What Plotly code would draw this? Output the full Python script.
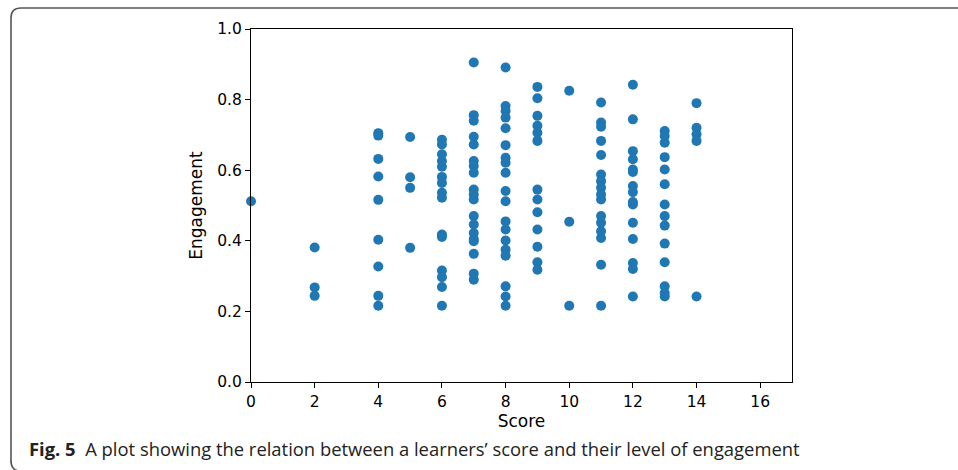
import plotly.graph_objects as go

# ---- data ----
score_0 = [0.512]
score_2 = [0.381, 0.268, 0.244]
score_4 = [0.705, 0.698, 0.632, 0.582, 0.516, 0.403, 0.327, 0.244, 0.216]
score_5 = [0.694, 0.580, 0.550, 0.380]
score_6 = [0.686, 0.673, 0.645, 0.626, 0.610, 0.581, 0.564, 0.536, 0.522, 0.418, 0.411, 0.316, 0.297, 0.269, 0.216]
score_7 = [0.905, 0.756, 0.740, 0.695, 0.673, 0.626, 0.612, 0.593, 0.545, 0.531, 0.517, 0.470, 0.446, 0.422, 0.405, 0.399, 0.363, 0.307, 0.290]
score_8 = [0.891, 0.782, 0.768, 0.749, 0.719, 0.671, 0.635, 0.621, 0.593, 0.541, 0.512, 0.455, 0.432, 0.401, 0.375, 0.358, 0.271, 0.242, 0.216]
score_9 = [0.836, 0.804, 0.754, 0.726, 0.706, 0.683, 0.545, 0.517, 0.481, 0.432, 0.383, 0.339, 0.318]
score_10 = [0.825, 0.454, 0.216]
score_11 = [0.792, 0.735, 0.723, 0.683, 0.643, 0.588, 0.569, 0.550, 0.531, 0.517, 0.470, 0.451, 0.427, 0.408, 0.332, 0.216]
score_12 = [0.842, 0.744, 0.654, 0.631, 0.602, 0.595, 0.555, 0.538, 0.510, 0.503, 0.451, 0.405, 0.337, 0.320, 0.242]
score_13 = [0.711, 0.697, 0.678, 0.637, 0.602, 0.560, 0.503, 0.470, 0.443, 0.392, 0.339, 0.271, 0.252, 0.242]
score_14 = [0.790, 0.720, 0.702, 0.683, 0.242]

scores = [0, 2, 4, 5, 6, 7, 8, 9, 10, 11, 12, 13, 14]
engagement_by_score = [score_0, score_2, score_4, score_5, score_6, score_7, score_8,
                       score_9, score_10, score_11, score_12, score_13, score_14]

x_ticks = [0, 2, 4, 6, 8, 10, 12, 14, 16]
y_ticks = [0.0, 0.2, 0.4, 0.6, 0.8, 1.0]
y_tick_labels = ["0.0", "0.2", "0.4", "0.6", "0.8", "1.0"]

x_title = "Score"
y_title = "Engagement"
caption_bold = "Fig. 5"
caption_text = "A plot showing the relation between a learners’ score and their level of engagement"

xs, ys = [], []
for s, vals in zip(scores, engagement_by_score):
    xs.extend([s] * len(vals))
    ys.extend(vals)

# ---- layout geometry ----
W, H = 958, 470
ML, MR, MT, MB = 251, 166, 29, 88
PW, PH = W - ML - MR, H - MT - MB


def px(xp):
    return (xp - ML) / PW


def py(yp):
    return (H - MB - yp) / PH


fig = go.Figure()
fig.add_trace(go.Scatter(
    x=xs, y=ys, mode="markers",
    marker=dict(color="#1f77b4", size=10, line=dict(width=0)),
    cliponaxis=False, showlegend=False, hoverinfo="x+y",
))

axis_common = dict(
    showline=True, linecolor="black", linewidth=1, mirror=True,
    ticks="outside", ticklen=5, tickwidth=1, tickcolor="black",
    showgrid=False, zeroline=False,
    tickfont=dict(family="DejaVu Sans", size=15.5, color="black"),
)

fig.update_layout(
    width=W, height=H,
    margin=dict(l=ML, r=MR, t=MT, b=MB, pad=0),
    paper_bgcolor="white", plot_bgcolor="white",
    xaxis=dict(range=[0, 17], tickvals=x_ticks,
               title=dict(text=x_title, font=dict(family="DejaVu Sans", size=17, color="black"), standoff=4),
               **axis_common),
    yaxis=dict(range=[0, 1], tickvals=y_ticks, ticktext=y_tick_labels,
               title=dict(text=y_title, font=dict(family="DejaVu Sans", size=17, color="black"), standoff=10),
               **axis_common),
)

# rounded frame (left + top edges)
r = 10
x0, y0 = 11, 8
path = (f"M {px(x0)},{py(462)} "
        f"L {px(x0)},{py(y0 + r)} "
        f"Q {px(x0)},{py(y0)} {px(x0 + r)},{py(y0)} "
        f"L {px(W + 5)},{py(y0)}")
fig.add_shape(type="path", xref="paper", yref="paper", path=path,
              line=dict(color="#555555", width=1.6), layer="below")
path2 = (f"M {px(x0)},{py(461)} Q {px(x0)},{py(470)} {px(x0 + 8)},{py(471)}")
fig.add_shape(type="path", xref="paper", yref="paper", path=path2,
              line=dict(color="#555555", width=1.6), layer="below")

fig.add_annotation(
    xref="paper", yref="paper", x=px(27), y=py(449), xanchor="left", yanchor="middle",
    showarrow=False,
    text=f"<b>{caption_bold}</b>  {caption_text}",
    font=dict(family="Open Sans", size=18.4, color="#222222"),
)

fig.write_html("out.html", config={"displayModeBar": False},
               post_script="document.body.style.margin='0';")
